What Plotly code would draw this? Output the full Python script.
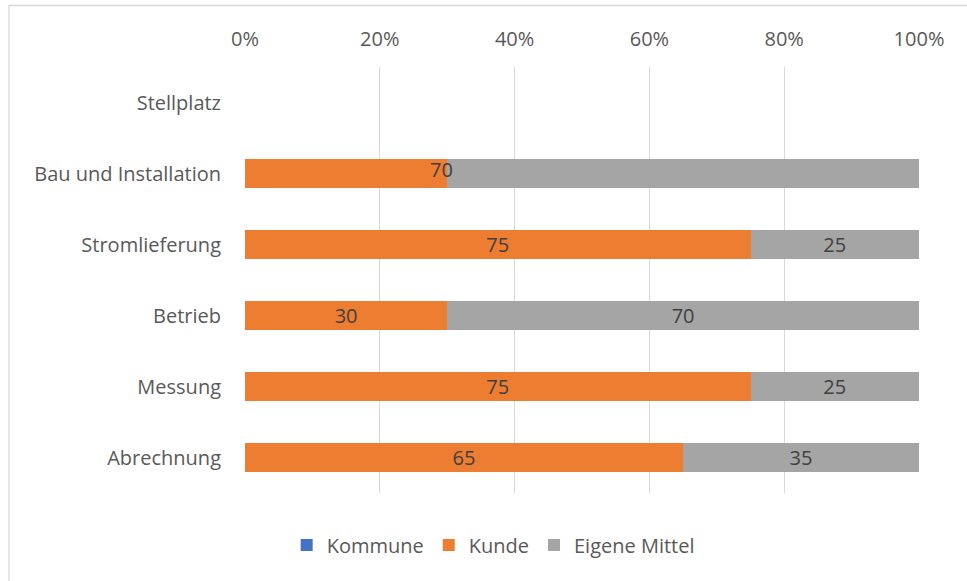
import plotly.graph_objects as go

categories = ["Stellplatz", "Bau und Installation", "Stromlieferung", "Betrieb", "Messung", "Abrechnung"]
kommune = [0, 0, 0, 0, 0, 0]
kunde = [0, 30, 75, 30, 75, 65]
eigene = [0, 70, 25, 70, 25, 35]
kunde_labels = ["", "", "75", "30", "75", "65"]
eigene_labels = ["", "", "25", "70", "25", "35"]
extra_label_cat = "Bau und Installation"
extra_label_text = "70"
tick_vals = [0, 20, 40, 60, 80, 100]
tick_text = ["0%", "20%", "40%", "60%", "80%", "100%"]

font_fam = "Open Sans, DejaVu Sans, sans-serif"
fs = 20

fig = go.Figure()
fig.add_trace(go.Bar(y=categories, x=kommune, name="Kommune", orientation="h",
                     marker=dict(color="#4472c4", line=dict(width=0))))
fig.add_trace(go.Bar(y=categories, x=kunde, name="Kunde", orientation="h",
                     marker=dict(color="#ed7d31", line=dict(width=0)),
                     text=kunde_labels, textposition="inside", insidetextanchor="middle",
                     textangle=0,
                     textfont=dict(color="#404040", size=fs, family=font_fam),
                     constraintext="none"))
fig.add_trace(go.Bar(y=categories, x=eigene, name="Eigene Mittel", orientation="h",
                     marker=dict(color="#a5a5a5", line=dict(width=0)),
                     text=eigene_labels, textposition="inside", insidetextanchor="middle",
                     textangle=0,
                     textfont=dict(color="#404040", size=fs, family=font_fam),
                     constraintext="none"))

ci = categories.index(extra_label_cat)
fig.add_annotation(x=kunde[ci], y=extra_label_cat, text=extra_label_text, showarrow=False,
                   xanchor="right", xshift=8, yshift=4,
                   font=dict(color="#404040", size=fs, family=font_fam))

fig.add_shape(type="rect", xref="paper", yref="paper",
              x0=(9 - 245) / 674, x1=(1000 - 245) / 674,
              y0=(493 - 620) / 426, y1=(493 - 5.5) / 426,
              line=dict(color="#d9d9d9", width=1.3), fillcolor="rgba(0,0,0,0)", layer="below")

fig.update_layout(
    width=967, height=581,
    barmode="stack",
    bargap=0.6,
    paper_bgcolor="white", plot_bgcolor="white",
    margin=dict(l=245, r=48, t=67, b=88),
    font=dict(family=font_fam, size=fs, color="#595959"),
    xaxis=dict(side="top", range=[0, 100], tickvals=tick_vals, ticktext=tick_text,
               showgrid=True, gridcolor="#d9d9d9", gridwidth=1.3, zeroline=False,
               showline=False, ticks="", ticklabelstandoff=16,
               tickfont=dict(size=fs, color="#595959", family=font_fam), fixedrange=True),
    yaxis=dict(categoryorder="array", categoryarray=categories, autorange="reversed",
               showgrid=False, zeroline=False, showline=False, ticks="",
               ticklabelstandoff=23,
               tickfont=dict(size=fs, color="#595959", family=font_fam)),
    legend=dict(orientation="h", xref="container", yref="container", x=0.51, xanchor="center",
                y=0.062, yanchor="middle", font=dict(size=fs, color="#595959", family=font_fam),
                itemwidth=30, traceorder="normal"),
    showlegend=True,
)

fig.write_html("out.html", config={"displayModeBar": False},
               post_script="document.body.style.margin='0';")
